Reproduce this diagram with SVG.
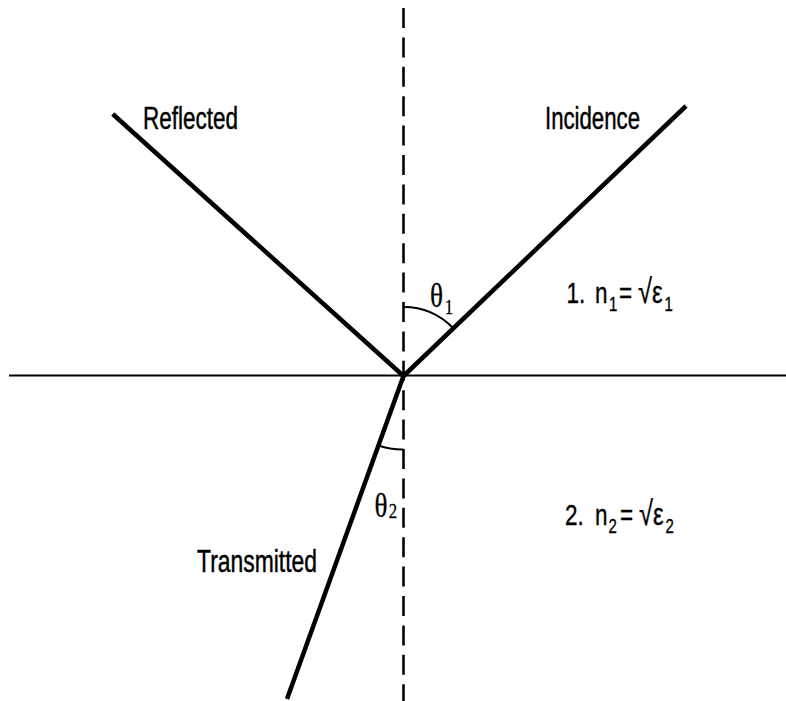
<svg xmlns="http://www.w3.org/2000/svg" width="786" height="701" viewBox="0 0 786 701">
<style>
.ray{stroke:#000;stroke-width:4.5;fill:none;stroke-linecap:butt}
.arc{stroke:#000;stroke-width:2;fill:none}
text{fill:#000;stroke:#000;stroke-width:0.45}
.lbl{font-family:"Liberation Sans",Arial,sans-serif;font-size:31px}
.eq{font-family:"Liberation Sans",Arial,sans-serif;font-size:30px;stroke-width:0.35}
.rad{font-size:34px}
.eps{font-size:32px}
.sub{font-size:20px}
.th{font-family:"Liberation Serif","Times New Roman",serif;font-size:34px;stroke-width:0.3}
.ths{font-size:21px}
</style>
<rect width="786" height="701" fill="#fff"/>
<g id="connectors">
<line id="interface" x1="9" y1="375.5" x2="786" y2="375.5" stroke="#000" stroke-width="2.2"/>
<line id="normal" x1="403.5" y1="8" x2="403.5" y2="701" stroke="#000" stroke-width="2.6" stroke-dasharray="20 9.4"/>
<path id="incidence-ray" class="ray" d="M403.5 376 L686 106"/>
<path id="reflected-ray" class="ray" d="M403.5 376 L112.7 114"/>
<path id="transmitted-ray" class="ray" d="M403.5 376 L287 699"/>
<path id="arc1" class="arc" d="M403.5 307 A69 69 0 0 1 453.3 328.3"/>
<path id="arc2" class="arc" d="M403.5 449.5 A74 74 0 0 1 378.3 445.5"/>
</g>
<g id="label-reflected"><text class="lbl" x="143" y="128.5" textLength="95" lengthAdjust="spacingAndGlyphs">Reflected</text></g>
<g id="label-incidence"><text class="lbl" x="545" y="128.5" textLength="95" lengthAdjust="spacingAndGlyphs">Incidence</text></g>
<g id="label-transmitted"><text class="lbl" x="197" y="571.5" textLength="120" lengthAdjust="spacingAndGlyphs">Transmitted</text></g>
<g id="theta1">
<text class="th" transform="scale(0.8,1)"><tspan x="537.5" y="307">θ</tspan><tspan class="ths" x="556" y="314.5">1</tspan></text>
</g>
<g id="theta2">
<text class="th" transform="scale(0.8,1)"><tspan x="468" y="517.5">θ</tspan><tspan class="ths" x="486" y="518">2</tspan></text>
</g>
<g id="medium1">
<text class="eq" transform="scale(0.75,1)"><tspan x="755.3" y="303.5">1.</tspan><tspan x="793.3" y="303.5">n</tspan><tspan class="sub" x="812" y="311">1</tspan><tspan x="825.3" y="303.5">=</tspan><tspan class="rad" x="850.7" y="303.5">√</tspan><tspan class="eps" x="869.3" y="303.5">ε</tspan><tspan class="sub" x="886" y="311">1</tspan></text>
</g>
<g id="medium2">
<text class="eq" transform="scale(0.75,1)"><tspan x="753.3" y="525.5">2.</tspan><tspan x="793.3" y="525.5">n</tspan><tspan class="sub" x="811.3" y="533">2</tspan><tspan x="826.7" y="525.5">=</tspan><tspan class="rad" x="852" y="525.5">√</tspan><tspan class="eps" x="870.7" y="525.5">ε</tspan><tspan class="sub" x="887.3" y="533">2</tspan></text>
</g>
</svg>
